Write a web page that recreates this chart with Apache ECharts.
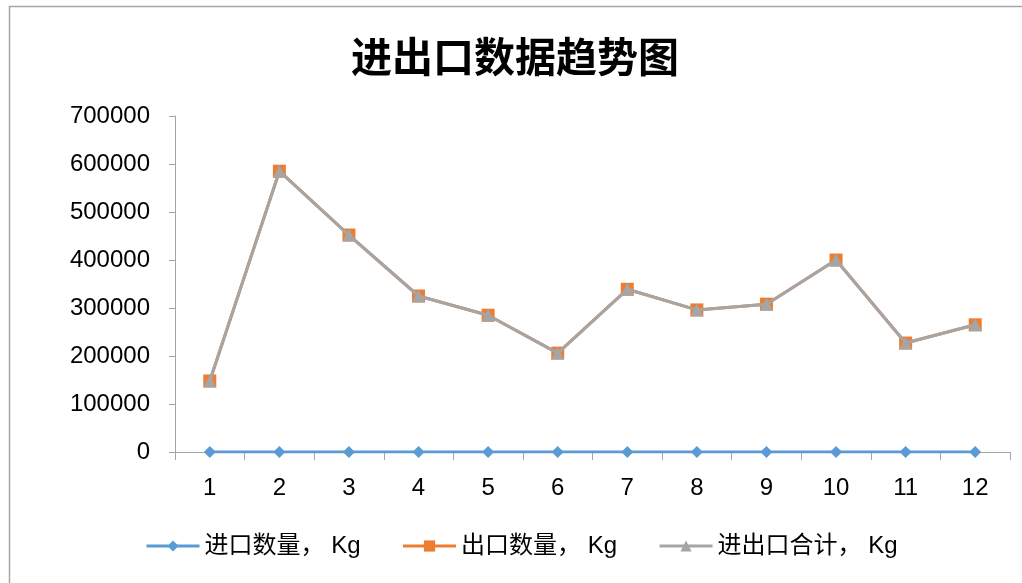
<!DOCTYPE html>
<html>
<head>
<meta charset="utf-8">
<script src="https://cdn.jsdelivr.net/npm/echarts@6/dist/echarts.min.js"></script>
<style>
html,body{margin:0;padding:0;background:#fff;}
#c{width:1022px;height:583px;}
</style>
</head>
<body>
<div id="c"></div>
<script>
var categories = ['1','2','3','4','5','6','7','8','9','10','11','12'];
var importQty = [0,0,0,0,0,0,0,0,0,0,0,0];
var exportQty = [148000,585000,452000,325000,285000,206000,339000,296000,308000,400000,227000,265000];
var totalQty = [148000,585000,452000,325000,285000,206000,339000,296000,308000,400000,227000,265000];
var seriesNames = ['进口数量，Kg','出口数量，Kg','进出口合计，Kg'];

var cjkFont = '"Noto Sans CJK SC","Liberation Sans",sans-serif';
var latinFont = '"Liberation Sans", Arial, sans-serif';
var chart = echarts.init(document.getElementById('c'));
chart.setOption({
  animation: false,
  backgroundColor: '#fff',
  title: {
    text: '进出口数据趋势图',
    left: 346,
    top: 31,
    textStyle: {fontFamily: cjkFont, fontSize: 41, fontWeight: 'bold', color: '#000'}
  },
  graphic: [{
    type: 'rect', left: 7, top: 4,
    shape: {width: 1100, height: 700},
    style: {fill: 'none', stroke: '#a6a6a6', lineWidth: 1.5},
    silent: true
  }],
  grid: {left: 175, right: 12, top: 116, bottom: 131},
  legend: {
    top: 529,
    left: 140,
    itemWidth: 53,
    itemHeight: 14,
    itemGap: 41,
    lineStyle: {width: 3},
    formatter: function (name) { return name.replace('，', '， '); },
    textStyle: {fontFamily: '"Liberation Sans","Noto Sans CJK SC",sans-serif', fontSize: 24, color: '#000'},
    data: seriesNames
  },
  xAxis: {
    type: 'category',
    data: categories,
    boundaryGap: true,
    axisLine: {lineStyle: {color: '#a6a6a6', width: 1}},
    axisTick: {show: true, length: 8, lineStyle: {color: '#a6a6a6'}},
    axisLabel: {fontFamily: latinFont, fontSize: 24, color: '#000', margin: 24}
  },
  yAxis: {
    type: 'value',
    min: 0, max: 700000, interval: 100000,
    axisLine: {show: true, lineStyle: {color: '#a6a6a6', width: 1}},
    axisTick: {show: true, length: 6, inside: false, lineStyle: {color: '#a6a6a6'}},
    splitLine: {show: false},
    axisLabel: {fontFamily: latinFont, fontSize: 24, color: '#000', margin: 25,
      formatter: function (v) { return String(v); }}
  },
  series: [
    {
      name: seriesNames[0], type: 'line', data: importQty,
      symbol: 'diamond', symbolSize: 12,
      lineStyle: {color: '#5B9BD5', width: 3},
      itemStyle: {color: '#5B9BD5'}, z: 3
    },
    {
      name: seriesNames[1], type: 'line', data: exportQty,
      symbol: 'rect', symbolSize: 13,
      lineStyle: {color: '#ED7D31', width: 3},
      itemStyle: {color: '#ED7D31'}, z: 4
    },
    {
      name: seriesNames[2], type: 'line', data: totalQty,
      symbol: 'triangle', symbolSize: 13,
      lineStyle: {color: '#A5A5A5', width: 3},
      itemStyle: {color: '#A5A5A5'}, z: 5
    }
  ]
});
</script>
</body>
</html>
